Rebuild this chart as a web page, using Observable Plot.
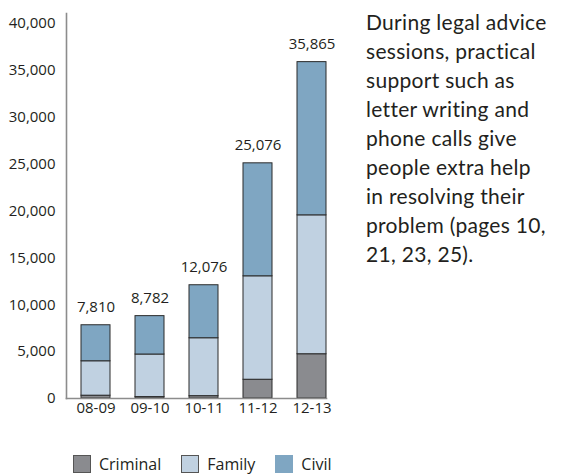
<!DOCTYPE html>
<html>
<head>
<meta charset="utf-8">
<script src="https://cdn.jsdelivr.net/npm/d3@7"></script>
<script src="https://cdn.jsdelivr.net/npm/@observablehq/plot@0.6"></script>
<style>
  html, body { margin: 0; padding: 0; background: #fff; }
  #page { position: relative; width: 569px; height: 476px; font-family: "Open Sans", sans-serif; color: #231f20; }
  #chart { position: absolute; left: 0; top: 0; }
  #note { position: absolute; left: 366px; top: 7px; font-family: "Lato", sans-serif; font-size: 21px; line-height: 29px; color: #231f20; letter-spacing: 0.3px; }
  #legend { position: absolute; left: 73px; top: 455px; display: flex; align-items: center; font-size: 16px; line-height: 18px; }
  #legend .item { display: flex; align-items: center; margin-right: 20px; }
  #legend .sw { width: 18px; height: 18px; box-sizing: border-box; margin-right: 8px; }
</style>
</head>
<body>
<div id="page">
  <div id="chart"></div>
  <div id="note"></div>
  <div id="legend"></div>
</div>
<script>
// Financial years shown on the x axis
const years = ["08-09", "09-10", "10-11", "11-12", "12-13"];

// Case categories, stacked bottom to top, and their fills
const categories = ["Criminal", "Family", "Civil"];
const colors = ["#8a8b8f", "#c0d1e1", "#7fa6c2"];

// Practical support given in each category per year
const criminal = [300, 150, 250, 2000, 4720];
const family = [3670, 4540, 6175, 11030, 14810];
const civil = [3840, 4092, 5651, 12046, 16335];

// Totals printed above each bar
const totals = [7810, 8782, 12076, 25076, 35865];

// Y axis ticks
const yTicks = [0, 5000, 10000, 15000, 20000, 25000, 30000, 35000, 40000];

// Side note text, one entry per line
const noteLines = [
  "During legal advice",
  "sessions, practical",
  "support such as",
  "letter writing and",
  "phone calls give",
  "people extra help",
  "in resolving their",
  "problem (pages 10,",
  "21, 23, 25)."
];

const series = { Criminal: criminal, Family: family, Civil: civil };
const rows = categories.flatMap(c => years.map((year, i) => ({ year, category: c, value: series[c][i] })));
const fmt = d3.format(",");

const chart = Plot.plot({
  width: 340,
  height: 420,
  marginLeft: 66,
  marginRight: 14,
  marginTop: 13,
  marginBottom: 22,
  style: { fontFamily: "Open Sans, sans-serif", fontSize: "15px", color: "#231f20", background: "transparent" },
  x: { domain: years, paddingInner: 0.46, paddingOuter: 0.11, align: 1, label: null },
  y: { domain: [0, 41050], label: null },
  color: { domain: categories, range: colors },
  marks: [
    Plot.barY(rows, {
      x: "year",
      y: "value",
      fill: "category",
      order: categories,
      stroke: "#2a2a2a",
      strokeWidth: 1
    }),
    Plot.axisY({ ticks: yTicks, tickFormat: fmt, tickSize: 0, tickPadding: 11, fontSize: 15, label: null }),
    Plot.axisX({ tickSize: 0, tickPadding: 4, fontSize: 15, label: null }),
    Plot.frame({ anchor: "left", stroke: "#8c8c8c", strokeWidth: 1.6 }),
    Plot.frame({ anchor: "bottom", stroke: "#8c8c8c", strokeWidth: 1.6 }),
    Plot.text(years, {
      x: d => d,
      y: (d, i) => totals[i],
      text: (d, i) => fmt(totals[i]),
      dy: -18,
      fontSize: 15,
      fill: "#231f20"
    })
  ]
});
document.getElementById("chart").append(chart);

// Side note
const note = document.getElementById("note");
noteLines.forEach(line => {
  const div = document.createElement("div");
  div.textContent = line;
  note.append(div);
});

// Legend
const legend = document.getElementById("legend");
categories.forEach((c, i) => {
  const item = document.createElement("div");
  item.className = "item";
  const sw = document.createElement("span");
  sw.className = "sw";
  sw.style.background = colors[i];
  sw.style.border = c === "Civil" ? "none" : "1px solid #555";
  const label = document.createElement("span");
  label.textContent = c;
  item.append(sw, label);
  legend.append(item);
});
</script>
</body>
</html>
